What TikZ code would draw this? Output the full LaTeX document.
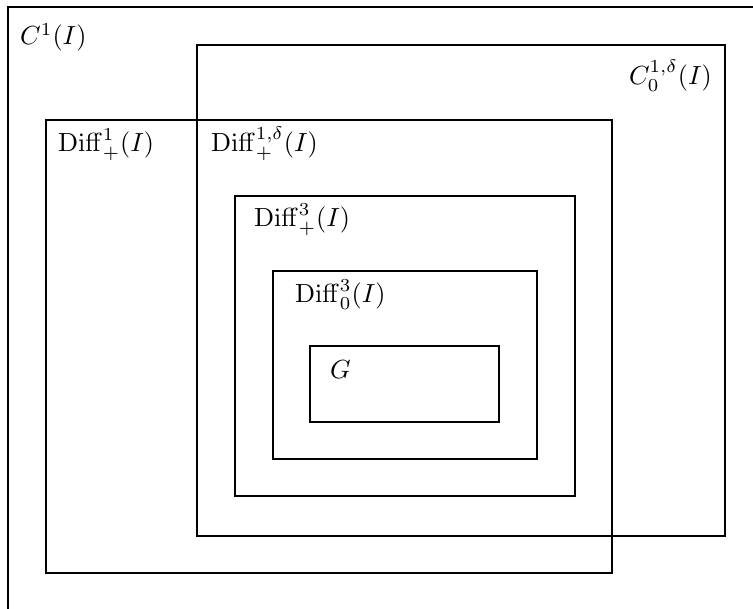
\documentclass[tikz,border=0pt]{standalone}
\usepackage{graphicx}
\begin{document}
\begin{tikzpicture}[x=1pt,y=-1pt,
  box/.style={draw=black,line width=2.8pt,rectangle,inner sep=0pt,outer sep=0pt},
  lbl/.style={inner sep=0pt,anchor=base west}]
\newcommand{\bigtxt}[1]{\scalebox{2.62}{#1}}
\useasboundingbox (0,0) rectangle (753,609);
\clip (0,0) rectangle (753,609);
\fill[white] (0,0) rectangle (753,609);
\draw[line width=2.4pt] (8,700) -- (8,7) -- (800,7);
\coordinate (c1) at (8,7);
\draw[box] (197,45) rectangle (725,536);
\coordinate (c0) at (197,45);
\draw[box] (46,120) rectangle (612,573);
\coordinate (d1) at (46,120);
\draw[box] (235,196) rectangle (575,496);
\coordinate (d3) at (235,196);
\draw[box] (273,271) rectangle (537,459);
\coordinate (d0) at (273,271);
\draw[box] (310,346) rectangle (499,422);
\coordinate (g) at (310,346);
\node[lbl] (tc1) at (20,45) {\bigtxt{$C^1(I)$}};
\node[lbl,anchor=base east] (tc0) at (712,85) {\bigtxt{$C^{1,\delta}_0(I)$}};
\node[lbl] (td1) at (58,152) {\bigtxt{$\mathrm{Diff}^1_+(I)$}};
\node[lbl] (td1d) at (211,152) {\bigtxt{$\mathrm{Diff}^{1,\delta}_+(I)$}};
\node[lbl] (td3) at (254,227) {\bigtxt{$\mathrm{Diff}^3_+(I)$}};
\node[lbl] (td0) at (295,303) {\bigtxt{$\mathrm{Diff}^3_0(I)$}};
\node[lbl] (tg) at (330,379) {\bigtxt{$G$}};
\end{tikzpicture}
\end{document}
